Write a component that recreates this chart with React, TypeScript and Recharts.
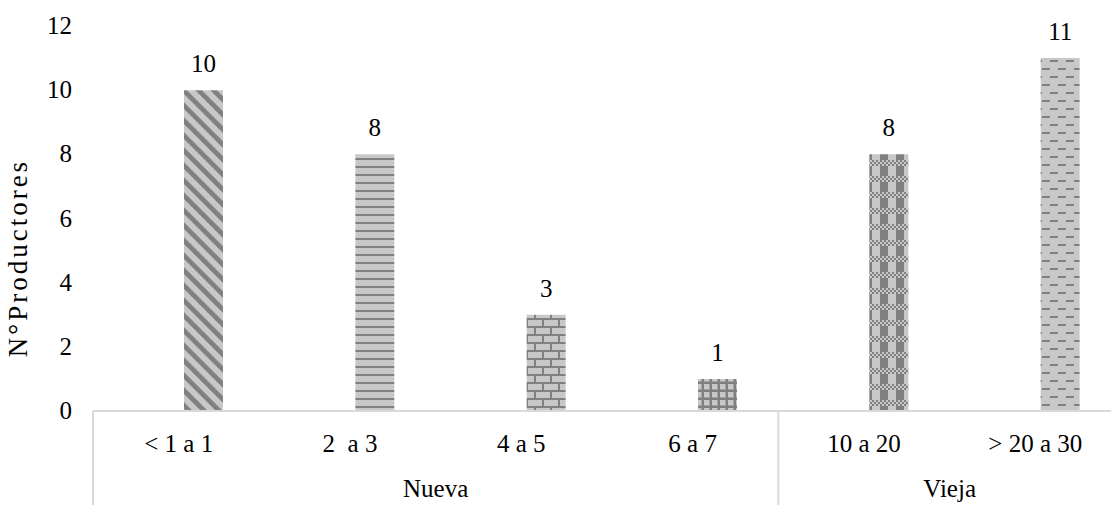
import React from "react";
import { BarChart, Bar, XAxis, YAxis, LabelList, Cell } from "recharts";

const categories = ["< 1 a 1", "2  a 3", "4 a 5", "6 a 7", "10 a 20", "> 20 a 30"];
const productores = [10, 8, 3, 1, 8, 11];
const groups = ["Nueva", "Nueva", "Nueva", "Nueva", "Vieja", "Vieja"];
const patternIds = ["pDiag", "pHoriz", "pBrick", "pGrid", "pCheck", "pDash"];
const yTicks = [0, 2, 4, 6, 8, 10, 12];

const data = categories.map((c, i) => ({
  cat: c,
  value: productores[i],
  group: groups[i],
  blank: null as number | null,
}));

const FONT = '"Liberation Serif", "Times New Roman", serif';
const FS = 25;
const LIGHT = "#c8c8c8";
const DARK = "#808080";
const AXIS = "#d9d9d9";
const CAT_H = 52;
const GROUP_H = 42;

const txt = { fontFamily: FONT, fontSize: FS, fill: "#000", whiteSpace: "pre" as const };

function CategoryTick(props: any) {
  const { x, y, payload, index } = props;
  const half = payload?.offset ?? 0;
  const first = index === 0 || groups[index] !== groups[index - 1];
  return (
    <g>
      {first && (
        <line x1={x - half} x2={x - half} y1={y} y2={y + CAT_H + GROUP_H} stroke={AXIS} strokeWidth={2} />
      )}
      <text x={x} y={y + 41} textAnchor="middle" style={txt}>
        {payload.value}
      </text>
    </g>
  );
}

function GroupTick(props: any) {
  const { x, y, index } = props;
  const half = props.payload?.offset ?? 0;
  // group label sits in the middle of its run of categories
  const g = groups[index];
  const start = groups.indexOf(g);
  const end = groups.lastIndexOf(g);
  if (index !== start) return <g />;
  const span = end - start + 1;
  const cx = x - half + span * half;
  return (
    <text x={cx} y={y + 34} textAnchor="middle" style={txt}>
      {g}
    </text>
  );
}

function ValueTick(props: any) {
  const { x, y, payload } = props;
  return (
    <text x={x} y={y + 8} textAnchor="end" style={txt}>
      {payload.value}
    </text>
  );
}

function BarValue(props: any) {
  const { x, y, width, value } = props;
  return (
    <text x={x + width / 2} y={y - 18} textAnchor="middle" style={txt}>
      {value}
    </text>
  );
}

function AxisTitle() {
  return (
    <text
      x={27}
      y={258}
      transform="rotate(-90 27 258)"
      textAnchor="middle"
      style={{ ...txt, fontSize: 27, letterSpacing: 3 }}
    >
      N°Productores
    </text>
  );
}

export default function App() {
  return (
    <div style={{ position: "absolute", left: 0, top: 0, width: 1111, height: 505, overflow: "hidden", background: "#fff" }}>
      <BarChart
        width={1121}
        height={505}
        data={data}
        margin={{ top: 26, right: 0, left: 0, bottom: 0 }}
        barSize={39}
        barGap={11}
        style={{ fontFamily: FONT }}
      >
        <defs>
          <pattern id="pDiag" width={10.6} height={10.6} patternUnits="userSpaceOnUse" patternTransform="rotate(-45)">
            <rect width={10.6} height={10.6} fill={LIGHT} />
            <rect width={4.7} height={10.6} fill={DARK} />
          </pattern>
          <pattern id="pHoriz" width={8} height={8} patternUnits="userSpaceOnUse">
            <rect width={8} height={8} fill={LIGHT} />
            <rect y={6} width={8} height={2} fill={DARK} />
          </pattern>
          <pattern id="pBrick" width={16} height={16} patternUnits="userSpaceOnUse">
            <rect width={16} height={16} fill={LIGHT} />
            <rect y={6} width={16} height={2} fill={DARK} />
            <rect y={14} width={16} height={2} fill={DARK} />
            <rect x={14} y={0} width={2} height={6} fill={DARK} />
            <rect x={6} y={8} width={2} height={6} fill={DARK} />
          </pattern>
          <pattern id="pGrid" width={8} height={8} patternUnits="userSpaceOnUse">
            <rect width={8} height={8} fill={LIGHT} />
            <rect y={5.5} width={8} height={2.5} fill={DARK} />
            <rect x={5.5} width={2.5} height={8} fill={DARK} />
          </pattern>
          <pattern id="pCheck" width={16} height={16} patternUnits="userSpaceOnUse">
            <rect width={16} height={16} fill={LIGHT} />
            <rect x={0} y={0} width={2} height={2} fill={DARK} />
            <rect x={4} y={0} width={2} height={2} fill={DARK} />
            <rect x={8} y={0} width={2} height={2} fill={DARK} />
            <rect x={12} y={0} width={2} height={2} fill={DARK} />
            <rect x={2} y={2} width={2} height={2} fill={DARK} />
            <rect x={6} y={2} width={2} height={2} fill={DARK} />
            <rect x={10} y={2} width={2} height={2} fill={DARK} />
            <rect x={14} y={2} width={2} height={2} fill={DARK} />
            <rect x={0} y={4} width={2} height={2} fill={DARK} />
            <rect x={4} y={4} width={2} height={2} fill={DARK} />
            <rect x={8} y={4} width={2} height={2} fill={DARK} />
            <rect x={12} y={4} width={2} height={2} fill={DARK} />
            <rect x={0} y={6} width={8} height={10} fill={DARK} />
          </pattern>
          <pattern id="pDash" width={16} height={16} patternUnits="userSpaceOnUse">
            <rect width={16} height={16} fill={LIGHT} />
            <rect x={2} y={4} width={8} height={2} fill={DARK} />
            <rect x={10} y={12} width={8} height={2} fill={DARK} />
            <rect x={-6} y={12} width={8} height={2} fill={DARK} />
          </pattern>
        </defs>
        <XAxis
          dataKey="cat"
          interval={0}
          height={CAT_H}
          tickSize={0}
          tickMargin={0}
          tickLine={false}
          axisLine={{ stroke: AXIS, strokeWidth: 2 }}
          tick={<CategoryTick />}
        />
        <XAxis
          xAxisId="grp"
          dataKey="cat"
          interval={0}
          height={GROUP_H}
          tickSize={0}
          tickMargin={0}
          tickLine={false}
          axisLine={false}
          tick={<GroupTick />}
        />
        <YAxis
          width={93}
          domain={[0, 12]}
          ticks={yTicks}
          interval={0}
          tickSize={0}
          tickMargin={21}
          axisLine={false}
          tickLine={false}
          tick={<ValueTick />}
          label={<AxisTitle />}
        />
        <Bar dataKey="blank" isAnimationActive={false} legendType="none" />
        <Bar dataKey="value" isAnimationActive={false}>
          {data.map((d, i) => (
            <Cell key={d.cat} fill={`url(#${patternIds[i]})`} />
          ))}
          <LabelList dataKey="value" content={<BarValue />} />
        </Bar>
      </BarChart>
    </div>
  );
}
